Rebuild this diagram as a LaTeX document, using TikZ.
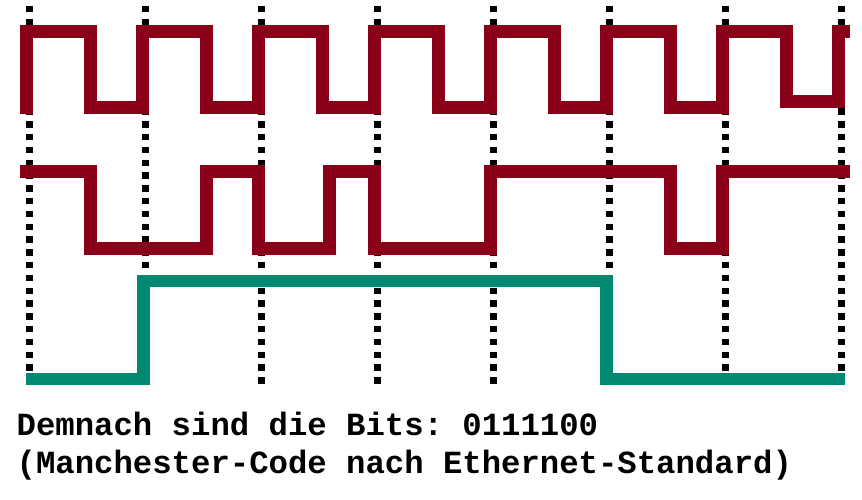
\documentclass[tikz,border=0pt]{standalone}
\usepackage{fontspec}
\setmonofont{Liberation Mono}
\definecolor{sigred}{RGB}{137,0,24}
\definecolor{sigteal}{RGB}{0,137,114}
\tikzset{
  gridline/.style={line width=7pt, black, dash pattern=on 6.4pt off 6.4pt, line cap=butt},
  clocksig/.style={line width=12.8pt, sigred, line join=miter, line cap=butt},
  datasig/.style={line width=12.3pt, sigteal, line join=miter, line cap=butt},
  caption/.style={anchor=base west, inner sep=0pt, font=\ttfamily\bfseries\fontsize{32.3pt}{38pt}\selectfont}
}
\begin{document}
\begin{tikzpicture}[x=1pt,y=-1pt]
\useasboundingbox (0,0) rectangle (862,500);
% dotted grid lines
\foreach \k in {0,...,7}{
  \draw[gridline] ({29.5+116*\k},6) -- ({29.5+116*\k},385);
}
% clock
\draw[clocksig] (26.5,114) -- (26.5,31.3)
  -- (90.5,31.3) -- (90.5,107.8) -- (142.5,107.8) -- (142.5,31.3)
  -- (206.5,31.3) -- (206.5,107.8) -- (258.5,107.8) -- (258.5,31.3)
  -- (322.5,31.3) -- (322.5,107.8) -- (374.5,107.8) -- (374.5,31.3)
  -- (438.5,31.3) -- (438.5,107.8) -- (490.5,107.8) -- (490.5,31.3)
  -- (554.5,31.3) -- (554.5,107.8) -- (606.5,107.8) -- (606.5,31.3)
  -- (670.5,31.3) -- (670.5,107.8) -- (722.5,107.8) -- (722.5,31.3)
  -- (786.5,31.3) -- (786.5,101.3) -- (838.5,101.3) -- (838.5,31.3)
  -- (850,31.3);
% manchester signal
\draw[clocksig] (20,171.8) -- (90.5,171.8) -- (90.5,248.2) -- (206.5,248.2)
  -- (206.5,171.8) -- (258.5,171.8) -- (258.5,248.2) -- (329.5,248.2)
  -- (329.5,171.8) -- (374.5,171.8) -- (374.5,248.2) -- (490.5,248.2)
  -- (490.5,171.8) -- (670.5,171.8) -- (670.5,248.2) -- (722.5,248.2)
  -- (722.5,171.8) -- (850,171.8);
% data bits
\draw[datasig] (26,379) -- (143.5,379) -- (143.5,281) -- (606.5,281)
  -- (606.5,379) -- (845,379);
% captions
\node[caption] (line1) at (16.5,435) {Demnach sind die Bits: 0111100};
\node[caption] (line2) at (16.5,473.3) {(Manchester-Code nach Ethernet-Standard)};
\end{tikzpicture}
\end{document}
